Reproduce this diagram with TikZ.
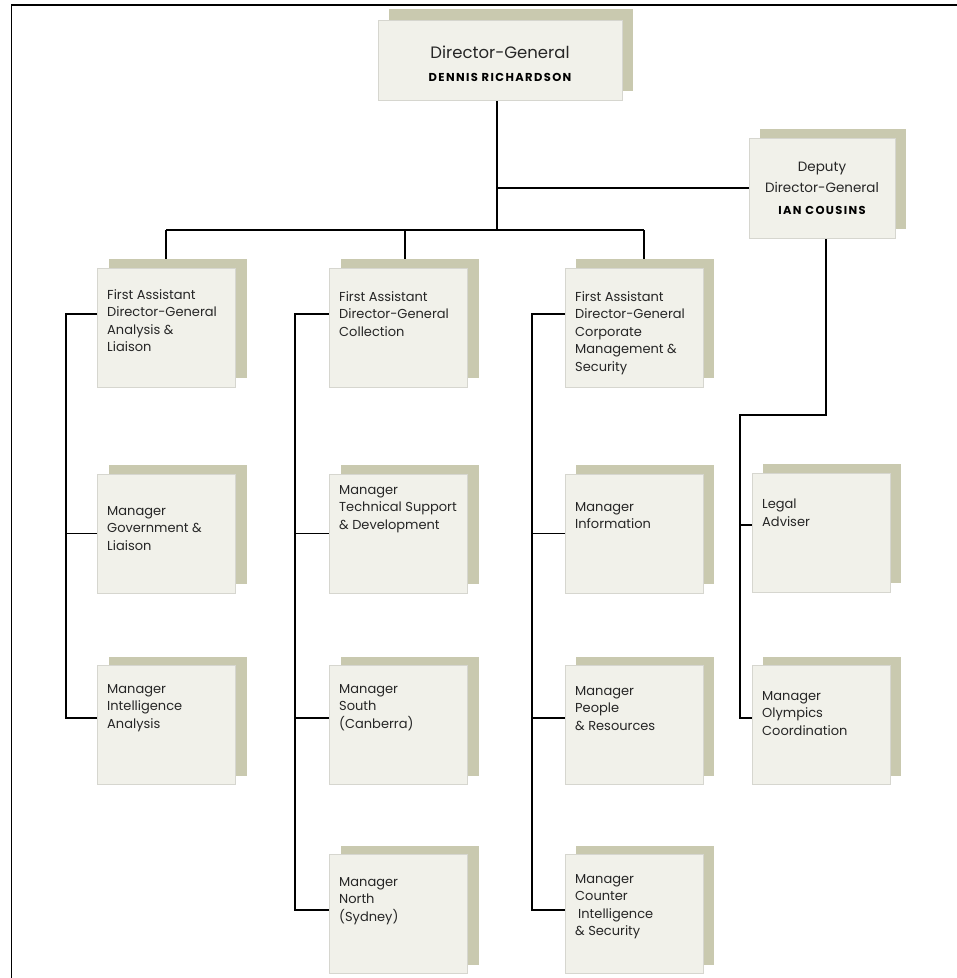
\documentclass[tikz,border=0pt]{standalone}
\usepackage{fontspec}
\setmainfont{Poppins}
\newfontfamily\namefont[LetterSpace=12]{Poppins}
\usetikzlibrary{shadows,backgrounds}
\definecolor{boxfill}{HTML}{F1F1EA}
\definecolor{boxline}{HTML}{D6D6CF}
\definecolor{boxshade}{HTML}{C9C9AF}
\definecolor{txt}{HTML}{262626}

\begin{document}
\begin{tikzpicture}[x=1pt, y=-1pt,
  box/.style={rectangle, fill=boxfill, draw=boxline, line width=1pt, inner sep=0pt,
    minimum width=138pt, minimum height=119pt,
    copy shadow={shadow xshift=11pt, shadow yshift=9pt, draw=none, fill=boxshade}},
  lbl/.style={anchor=north west, align=left, inner sep=0pt, text=txt,
    font=\fontsize{13}{17.5}\selectfont},
  ttl/.style={align=center, inner sep=0pt, text=txt, font=\fontsize{13.5}{21}\selectfont},
  nm/.style={inner sep=0pt, text=black, font=\namefont\bfseries\fontsize{11.5}{12}\selectfont},
  conn/.style={line width=1.6pt, black}]
\useasboundingbox (0,0) rectangle (957,978);
\draw[line width=1.8pt] (957,5) -- (11.5,5) -- (11.5,978);

\node[box, minimum width=244pt, minimum height=80pt, copy shadow={shadow xshift=11pt, shadow yshift=11pt, draw=none, fill=boxshade}] (dg) at (500,60){};
\node[ttl, font=\fontsize{16.5}{18}\selectfont] (dgt) at (500,52){Director-General};
\node[nm] (dgn) at (500,77){DENNIS RICHARDSON};

\node[box, minimum width=146pt, minimum height=100pt] (ddg) at (822,188){};
\node[ttl] (ddgt) at (822,177){Deputy\\Director-General};
\node[nm] (ddgn) at (822,210){IAN COUSINS};

\node[box] (fa1) at (166.5,327.5){};
\node[lbl] (fa1t) at (107,289){First Assistant\\Director-General\\Analysis \&\\Liaison};
\node[box] (m12) at (166.5,533.5){};
\node[lbl] (m12t) at (107,506){Manager\\Government \&\\Liaison};
\node[box] (m13) at (166.5,725){};
\node[lbl] (m13t) at (107,684){Manager\\Intelligence\\Analysis};

\node[box] (fa2) at (398.5,327.5){};
\node[lbl] (fa2t) at (339,291){First Assistant\\Director-General\\Collection};
\node[box] (m22) at (398.5,533.5){};
\node[lbl] (m22t) at (339,485){Manager\\Technical Support\\\& Development};
\node[box] (m23) at (398.5,725){};
\node[lbl] (m23t) at (339,684){Manager\\South\\(Canberra)};
\node[box] (m24) at (398.5,914){};
\node[lbl] (m24t) at (339,877){Manager\\North\\(Sydney)};

\node[box] (fa3) at (634,327.5){};
\node[lbl] (fa3t) at (575,291){First Assistant\\Director-General\\Corporate\\Management \&\\Security};
\node[box] (m32) at (634,533.5){};
\node[lbl] (m32t) at (575,502){Manager\\Information};
\node[box] (m33) at (634,725){};
\node[lbl] (m33t) at (575,686){Manager\\People\\\& Resources};
\node[box] (m34) at (634,914){};
\node[lbl] (m34t) at (575,874){Manager\\Counter\\\hspace{3pt}Intelligence\\\& Security};

\node[box] (lg) at (821,532.5){};
\node[lbl] (lgt) at (762,499){Legal\\Adviser};
\node[box] (oly) at (821,725){};
\node[lbl] (olyt) at (762,691){Manager\\Olympics\\Coordination};

\coordinate (j0) at (497,230);
\coordinate (d1) at (166,230);
\coordinate (d2) at (405,230);
\coordinate (d3) at (644,230);
\coordinate (c11) at (66,314);
\coordinate (c13) at (66,718);
\coordinate (c21) at (295,314);
\coordinate (c23) at (295,718);
\coordinate (c24) at (295,910);
\coordinate (c31) at (532,314);
\coordinate (c33) at (532,718);
\coordinate (c34) at (532,910);
\coordinate (e1) at (826,415);
\coordinate (e2) at (740,415);
\coordinate (e3) at (740,718);
\coordinate (e4) at (740,525);

\begin{scope}[on background layer]
\draw[conn] (j0 |- dg) -- (j0);
\draw[conn] (j0 |- ddg) -- (ddg);
\draw[conn] (d1) -- (d3);
\draw[conn] (d1) -- (d1 |- fa1);
\draw[conn] (d2) -- (d2 |- fa2);
\draw[conn] (d3) -- (d3 |- fa3);
\draw[conn] (fa1 |- c11) -- (c11) -- (c13) -- (m13 |- c13);
\draw[conn] (c11 |- m12) -- (m12);
\draw[conn] (fa2 |- c21) -- (c21) -- (c24) -- (m24 |- c24);
\draw[conn] (c21 |- m22) -- (m22);
\draw[conn] (c23) -- (m23 |- c23);
\draw[conn] (fa3 |- c31) -- (c31) -- (c34) -- (m34 |- c34);
\draw[conn] (c31 |- m32) -- (m32);
\draw[conn] (c33) -- (m33 |- c33);
\draw[conn] (e1 |- ddg) -- (e1) -- (e2) -- (e3) -- (oly |- e3);
\draw[conn] (e4) -- (lg |- e4);
\end{scope}
\end{tikzpicture}
\end{document}
